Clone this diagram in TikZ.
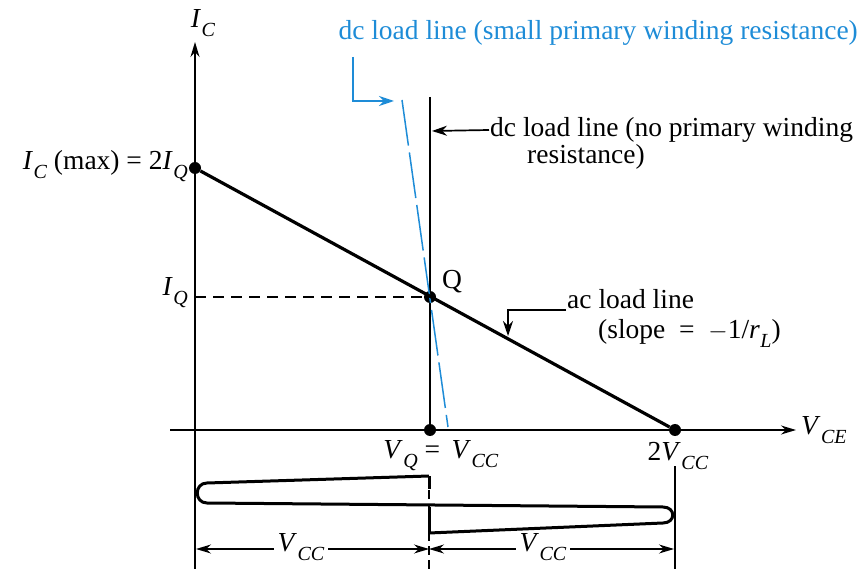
\documentclass[tikz,border=0pt]{standalone}
\usepackage{fontspec}
\setmainfont{Liberation Serif}
\usetikzlibrary{arrows.meta}
\definecolor{dcblue}{RGB}{30,140,215}
\newcommand\isub[2]{\textit{#1}\kern0.5pt\raisebox{-0.33em}{\fontsize{20}{20}\selectfont\textit{#2}}}
\begin{document}
\begin{tikzpicture}[x=1pt,y=-1pt,
  every node/.style={font=\fontsize{27.5}{31}\selectfont, inner sep=1pt},
  axis/.style={line width=1.6pt, -{Stealth[length=15pt,width=9pt]}},
  thick line/.style={line width=3.2pt},
  mid line/.style={line width=2pt},
  ptr/.style={line width=1.7pt, -{Stealth[length=15pt,width=10pt]}},
  dot/.style={circle, fill=black, inner sep=0pt, minimum size=12pt},
  wave/.style={line width=3pt, line join=round},
  dim/.style={line width=1.4pt, {Stealth[length=15pt,width=9pt]}-{Stealth[length=15pt,width=9pt]}}]
\useasboundingbox (0,0) rectangle (860,569);
% axes
\coordinate (ytop) at (195,42);
\coordinate (ybot) at (195,569);
\coordinate (xl) at (170,430);
\coordinate (xr) at (796,430);
\draw[line width=1.6pt] (195,100) -- (ybot);
\draw[axis] (195,440) -- (ytop);
\draw[axis] (xl) -- (xr);
\node[anchor=south] (ic) at (203,38) {\isub{I}{C}};
\node[anchor=west] (vce) at (800,430) {\isub{V}{CE}};
% points
\node[dot] (icmax) at (195,168) {};
\node[dot] (q) at (430,297) {};
\node[dot] (vq) at (430,430) {};
\node[dot] (v2) at (675,430) {};
\coordinate (iq) at (195,297);
% dc load line no resistance
\coordinate (vtop) at (430,97);
\draw[mid line] (vtop) -- (vq);
% blue dashed
\coordinate (btop) at (402,100);
\coordinate (bbot) at (448,427);
\draw[dcblue, line width=1.5pt, dash pattern=on 46pt off 7pt] (btop) -- (bbot);
% ac load line
\draw[thick line] (icmax) -- (v2);
% dashed IQ
\draw[line width=1.4pt, dash pattern=on 11pt off 7pt] (iq) -- (q);
% labels
\node[anchor=east] (lmax) at (189,166) {\isub{I}{C} (max) = 2\isub{I}{Q}};
\node[anchor=east] (liq) at (189,293) {\isub{I}{Q}};
\node (lq) at (452,282) {Q};
\node (lvq) at (441,456) {\isub{V}{Q} = \,\isub{V}{CC}};
\node (l2v) at (678,456) {2\isub{V}{CC}};
% blue label
\node[dcblue, anchor=east] (bl) at (859,33) {dc load line (small primary winding resistance)};
\coordinate (b1) at (353,57);
\coordinate (b2) at (353,101);
\coordinate (b3) at (394,101);
\draw[dcblue, ptr] (b1) -- (b2) -- (b3);
% black label
\node[anchor=west] (nl1) at (489,130) {dc load line (no primary winding};
\node[anchor=west] (nl2) at (526,157) {resistance)};
\coordinate (na) at (432,131);
\draw[ptr] (nl1.west) -- (na);
% ac label
\node[anchor=west] (al1) at (566,299) {ac load line};
\node[anchor=west] (al2) at (597,333) {(slope \ = \ $-$1/\isub{r}{L})};
\coordinate (ac1) at (508,310);
\coordinate (ac2) at (508,336);
\draw[ptr] (al1.west |- ac1) -- (ac1) -- (ac2);
% bottom waveform
\coordinate (mid) at (429,476);
\coordinate (midb) at (429,569);
\draw[line width=1.3pt, dash pattern=on 9pt off 5pt] (mid) -- (midb);
\draw[line width=1.6pt] (675,466) -- (675,569);
\draw[wave] (429,476) -- (429,489);
\draw[wave] (429,507) -- (429,533);
\draw[wave] (429,476) -- (207,483) .. controls (194,483) and (194,503) .. (207,503)
   -- (663,507) .. controls (676,507) and (676,523) .. (663,523) -- (429,533);
% dimension arrows
\coordinate (d0) at (196,549);
\coordinate (d1) at (429,549);
\coordinate (d2) at (674,549);
\draw[dim] (d0) -- (d1);
\draw[dim] (d1) -- (d2);
\node[fill=white, inner xsep=4pt] (dv1) at (301,547) {\isub{V}{CC}};
\node[fill=white, inner xsep=4pt] (dv2) at (543,547) {\isub{V}{CC}};
\end{tikzpicture}
\end{document}
